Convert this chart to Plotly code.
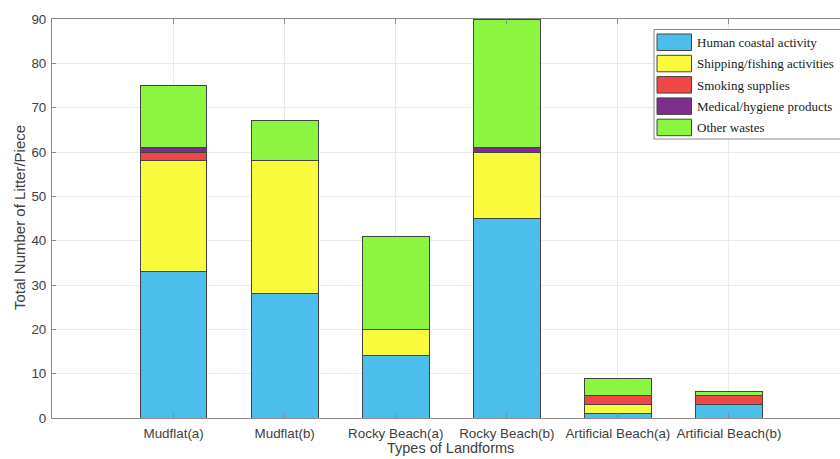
import plotly.graph_objects as go

# Litter counts by landform type and source category
landforms = ["Mudflat(a)", "Mudflat(b)", "Rocky Beach(a)", "Rocky Beach(b)",
             "Artificial Beach(a)", "Artificial Beach(b)"]
human_coastal = [33, 28, 14, 45, 1, 3]
shipping_fishing = [25, 30, 6, 15, 2, 0]
smoking = [2, 0, 0, 0, 2, 2]
medical_hygiene = [1, 0, 0, 1, 0, 0]
other_wastes = [14, 9, 21, 29, 4, 1]

series_names = ["Human coastal activity", "Shipping/fishing activities",
                "Smoking supplies", "Medical/hygiene products", "Other wastes"]
series_values = [human_coastal, shipping_fishing, smoking, medical_hygiene, other_wastes]
series_colors = ["#4BBEEB", "#FAFA3C", "#EF4646", "#7E2F8E", "#8CF540"]

positions = list(range(1, len(landforms) + 1))

W, H = 840, 459
ML, MR, MT, MB = 52, 0, 19, 41
plot_w = W - ML - MR
plot_h = H - MT - MB

fig = go.Figure()
for name, vals, col in zip(series_names, series_values, series_colors):
    fig.add_trace(go.Bar(
        x=positions, y=vals, name=name, width=0.6,
        marker=dict(color=col, line=dict(color="#444444", width=1)),
        showlegend=False,
    ))

sans = "Liberation Sans, Arial, sans-serif"
axis_font = dict(family=sans, size=13.4, color="#404040")

fig.update_layout(
    width=W, height=H,
    margin=dict(l=ML, r=MR, t=MT, b=MB, pad=0),
    barmode="stack",
    plot_bgcolor="white", paper_bgcolor="white",
    xaxis=dict(
        range=[-0.095, 7.0], tickvals=positions, ticktext=landforms,
        showgrid=True, gridcolor="#ebebeb", gridwidth=1,
        showline=True, linecolor="#8a8a8a", linewidth=1, mirror="ticks",
        ticks="inside", ticklen=5, tickcolor="#8a8a8a",
        tickfont=axis_font, zeroline=False, ticklabelstandoff=3,
    ),
    yaxis=dict(
        range=[0, 90], dtick=10,
        showgrid=True, gridcolor="#ebebeb", gridwidth=1,
        showline=True, linecolor="#8a8a8a", linewidth=1, mirror=False,
        ticks="inside", ticklen=4, tickcolor="#8a8a8a",
        tickfont=axis_font, zeroline=False, ticklabelstandoff=2,
    ),
)

def px_x(p):
    return (p - ML) / plot_w

def px_y(p):
    return (H - MB - p) / plot_h

annotations = [
    dict(text="Types of Landforms", x=px_x(450), y=px_y(458), xref="paper", yref="paper",
         xanchor="center", yanchor="bottom", showarrow=False,
         font=dict(family=sans, size=14.5, color="#404040")),
    dict(text="Total Number of Litter/Piece", x=px_x(19), y=px_y(218), xref="paper", yref="paper",
         xanchor="center", yanchor="middle", showarrow=False, textangle=-90,
         font=dict(family=sans, size=15, color="#404040")),
]

# Legend box with large swatches
shapes = [dict(type="rect", xref="paper", yref="paper",
               x0=px_x(654), x1=px_x(860), y0=px_y(139), y1=px_y(29.5),
               line=dict(color="#8a8a8a", width=1), fillcolor="white", layer="above")]
row0, step = 34, 21.3
for i, (name, col) in enumerate(zip(series_names, series_colors)):
    top = row0 + i * step
    shapes.append(dict(type="rect", xref="paper", yref="paper",
                       x0=px_x(657), x1=px_x(691.5), y0=px_y(top + 16.5), y1=px_y(top),
                       line=dict(color="#444444", width=1), fillcolor=col, layer="above"))
    annotations.append(dict(text=name, x=px_x(695), y=px_y(top + 8.5), xref="paper", yref="paper",
                            xanchor="left", yanchor="middle", showarrow=False,
                            font=dict(family="Liberation Serif, Times New Roman, serif",
                                      size=13, color="#1a1a1a")))

fig.update_layout(shapes=shapes, annotations=annotations)
fig.write_html("out.html")
